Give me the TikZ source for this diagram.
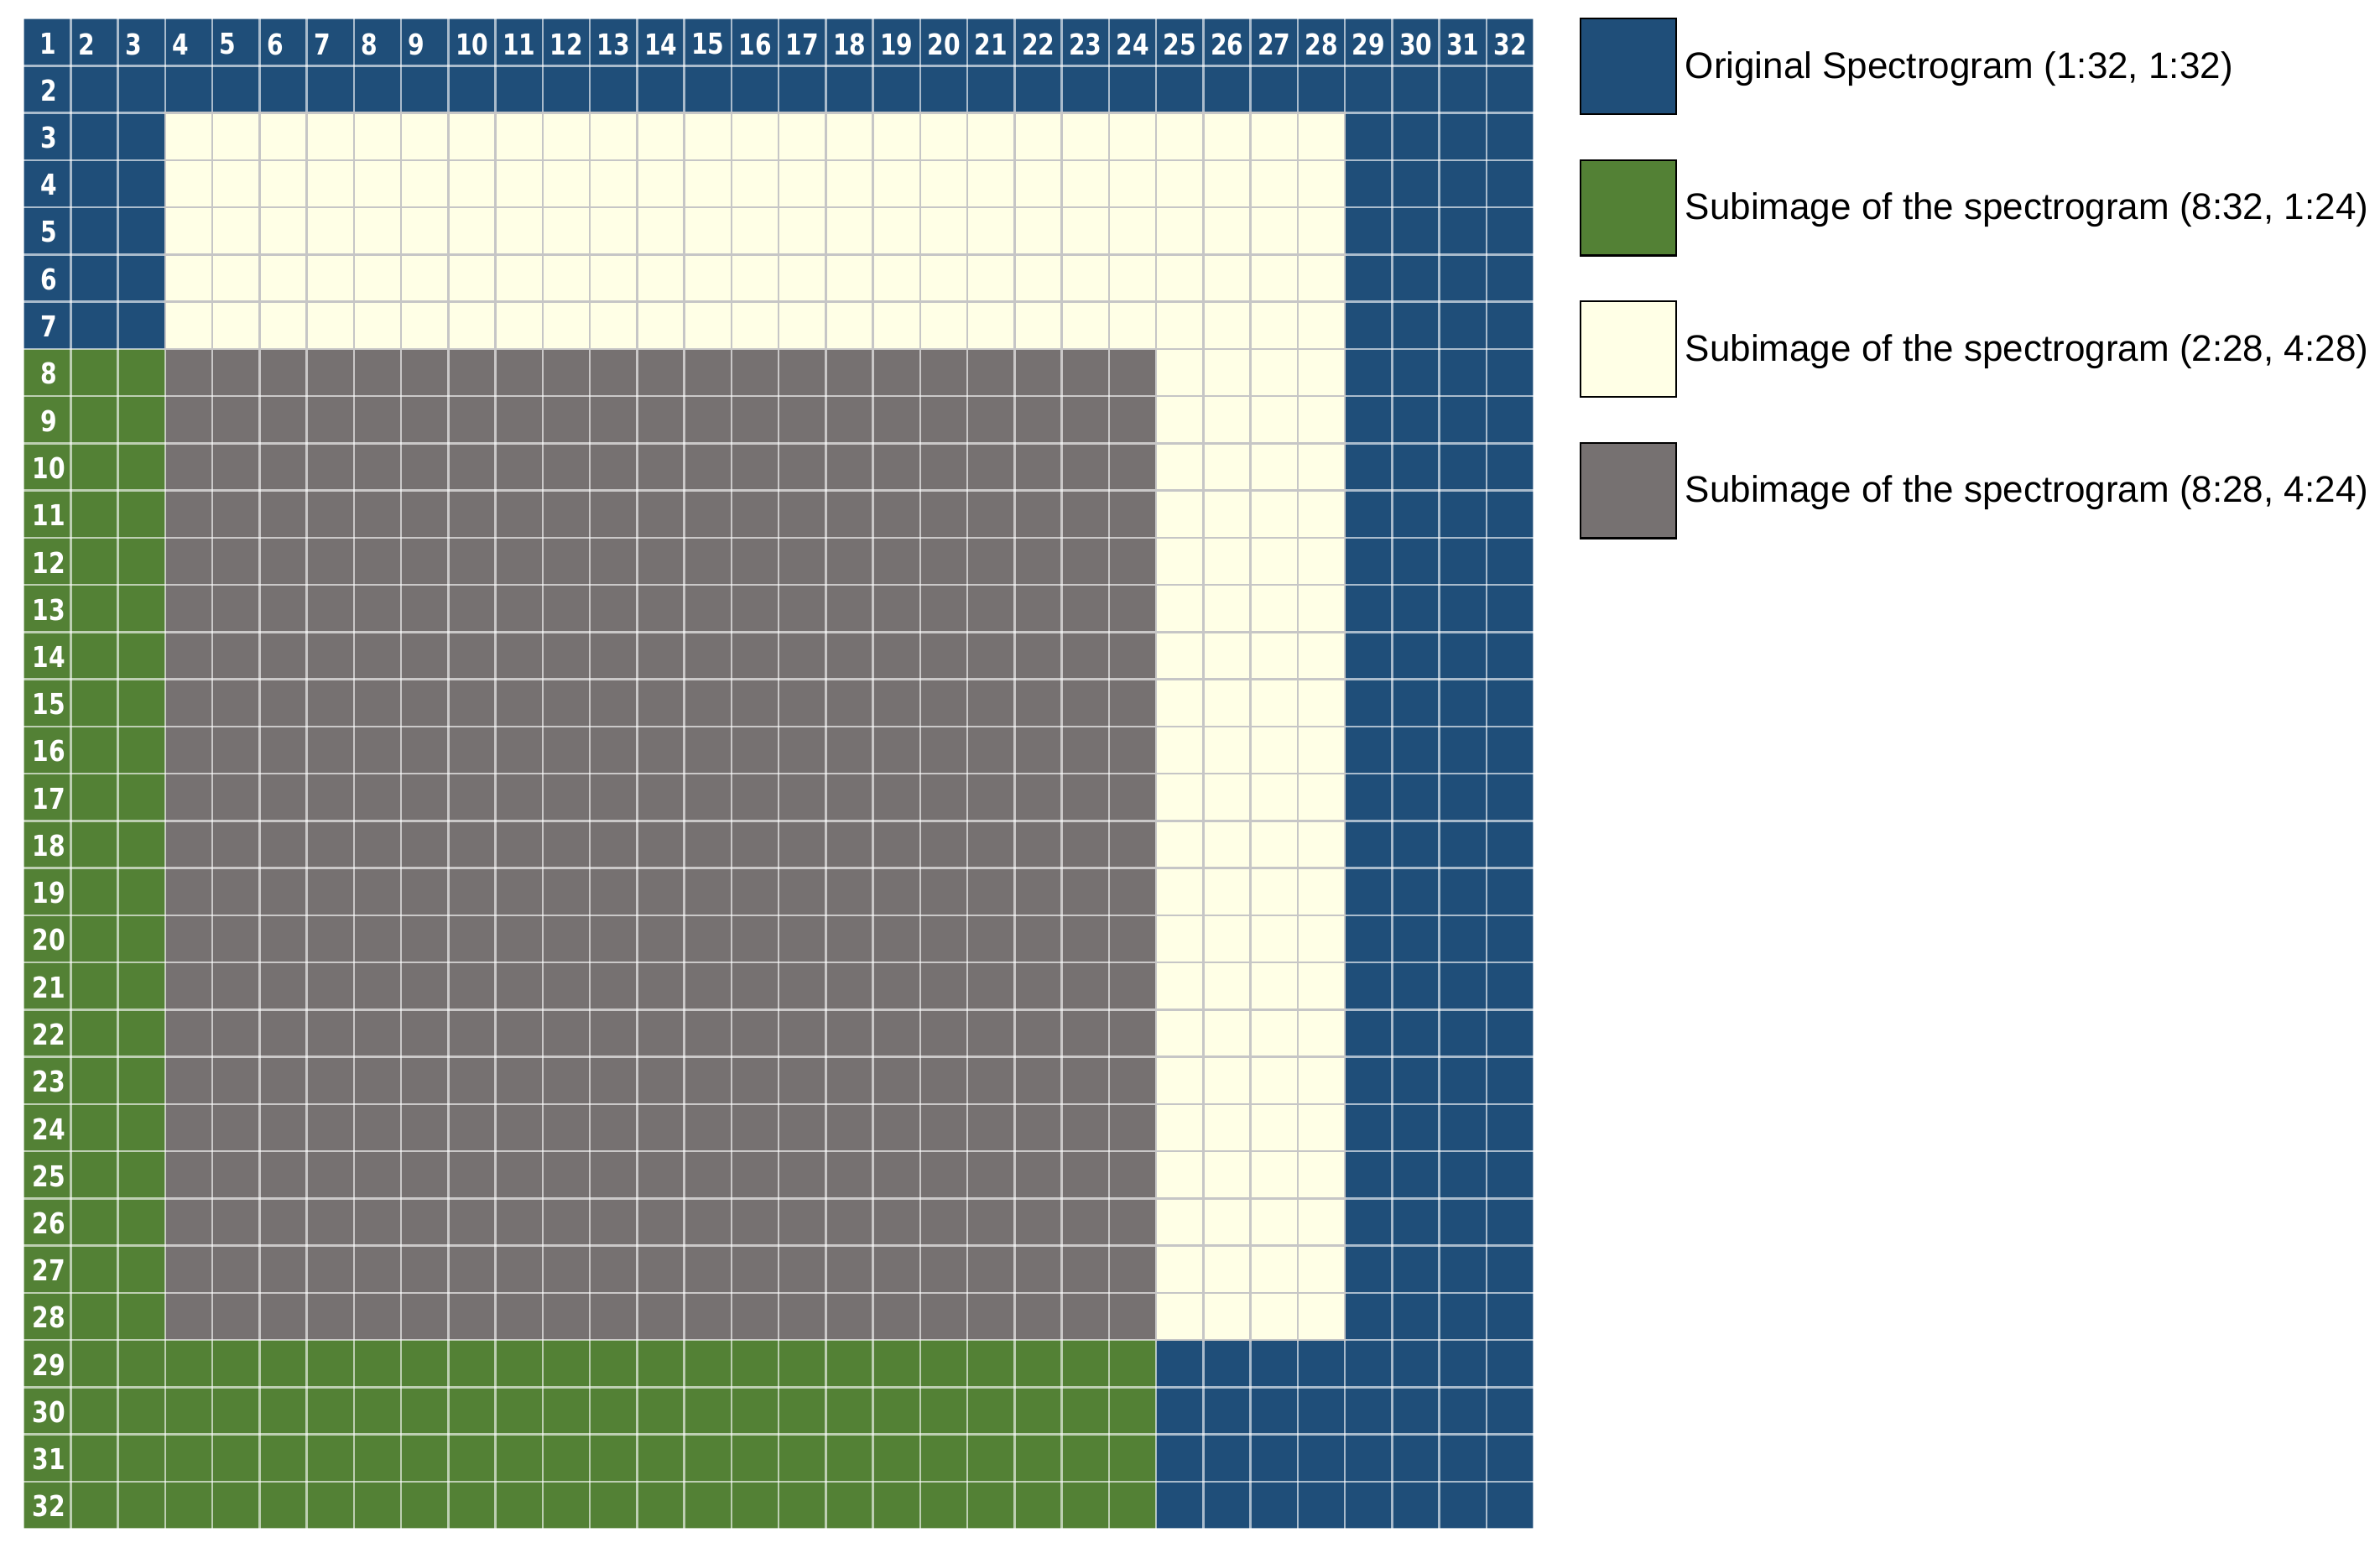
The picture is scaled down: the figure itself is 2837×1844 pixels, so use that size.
\documentclass[tikz,border=0pt]{standalone}
\usepackage{fontspec}
\setmainfont{Liberation Sans}
\newfontfamily\numfont[FakeStretch=0.82]{DejaVu Sans}
\definecolor{sblue}{HTML}{1F4E79}
\definecolor{sgreen}{HTML}{538135}
\definecolor{scream}{HTML}{FFFFE6}
\definecolor{sgray}{HTML}{767171}
\definecolor{cgrid}{HTML}{C6C6C6}
\tikzset{
  whitegrid/.style={draw=white, draw opacity=0.62, line width=0.625pt},
  creamgrid/.style={draw=cgrid, line width=0.625pt},
  hnum/.style={inner sep=0pt, text=white, font=\numfont\bfseries\fontsize{8.6pt}{10pt}\selectfont},
  legbox/.style={draw=black, line width=0.6pt, minimum width=28.4pt, minimum height=28.4pt, inner sep=0pt},
  legtext/.style={inner sep=0pt, anchor=base west, font=\fontsize{11pt}{13pt}\selectfont}
}
\begin{document}
\begin{tikzpicture}[x=0.25pt,y=-0.25pt]
\useasboundingbox (0,0) rectangle (2837,1844);
\fill[white] (0,0) rectangle (2837,1844);
% coloured regions
\fill[sblue] (28,22) rectangle (1828,1822);
\fill[scream] ({28+3*56.25},{22+2*56.25}) rectangle ({28+28*56.25},{22+28*56.25});
\fill[sgreen] (28,{22+7*56.25}) rectangle ({28+24*56.25},1822);
\fill[sgray] ({28+3*56.25},{22+7*56.25}) rectangle ({28+24*56.25},{22+28*56.25});
% grid lines
\foreach \i in {0,...,32} {
  \draw[whitegrid] ({28+\i*56.25},22) -- ({28+\i*56.25},1822);
  \draw[whitegrid] (28,{22+\i*56.25}) -- (1828,{22+\i*56.25});
}
% grey lines on the cream band
\begin{scope}
  \clip ({28+3*56.25-1.5},{22+2*56.25-1.5}) rectangle ({28+28*56.25+1.5},{22+7*56.25+1.5});
  \foreach \i in {0,...,32} {
    \draw[creamgrid] ({28+\i*56.25},22) -- ({28+\i*56.25},1822);
    \draw[creamgrid] (28,{22+\i*56.25}) -- (1828,{22+\i*56.25});
  }
\end{scope}
\begin{scope}
  \clip ({28+24*56.25-1.5},{22+7*56.25}) rectangle ({28+28*56.25+1.5},{22+28*56.25+1.5});
  \foreach \i in {0,...,32} {
    \draw[creamgrid] ({28+\i*56.25},22) -- ({28+\i*56.25},1822);
    \draw[creamgrid] (28,{22+\i*56.25}) -- (1828,{22+\i*56.25});
  }
\end{scope}
% header numbers
\node[hnum] (h1) at ({28+28.125+1},{22+28.125+2}) {1};
\foreach \c in {2,...,32} {
  \node[hnum, anchor=west] (h\c) at ({28+(\c-1)*56.25+8},{22+28.125+2.4}) {\c};
}
% row numbers
\foreach \r in {2,...,32} {
  \node[hnum] (r\r) at ({28+28.125+2},{22+(\r-1)*56.25+28.125+1.5}) {\r};
}
% legend
\node[legbox, fill=sblue]  (lb1) at (1941,{22+0*168.5+57}) {};
\node[legbox, fill=sgreen] (lb2) at (1941,{22+1*168.5+57}) {};
\node[legbox, fill=scream] (lb3) at (1941,{22+2*168.5+57}) {};
\node[legbox, fill=sgray]  (lb4) at (1941,{22+3*168.5+57}) {};
\node[legtext] (lt1) at (2008,{22+0*168.5+71}) {Original Spectrogram (1:32, 1:32)};
\node[legtext] (lt2) at (2008,{22+1*168.5+71}) {Subimage of the spectrogram (8:32, 1:24)};
\node[legtext] (lt3) at (2008,{22+2*168.5+71}) {Subimage of the spectrogram (2:28, 4:28)};
\node[legtext] (lt4) at (2008,{22+3*168.5+71}) {Subimage of the spectrogram (8:28, 4:24)};
\end{tikzpicture}
\end{document}
